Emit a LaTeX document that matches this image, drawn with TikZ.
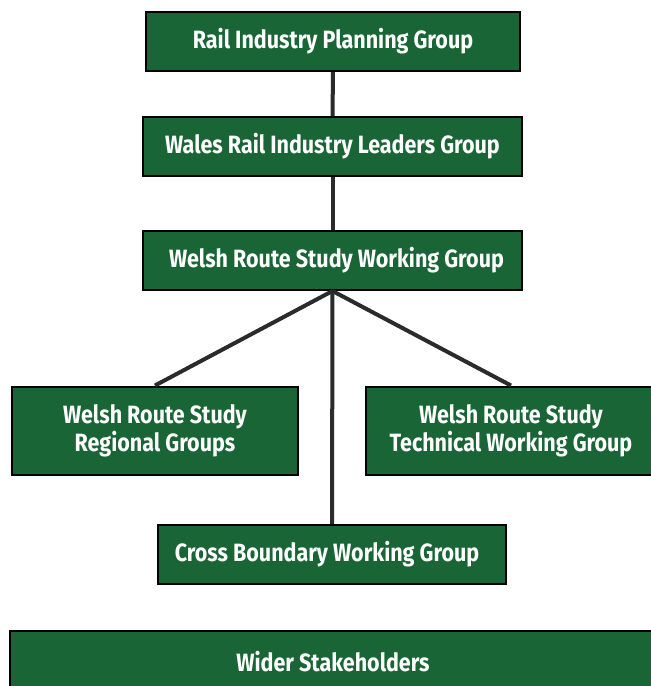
\documentclass[tikz,border=0pt]{standalone}
\usepackage{fontspec}
\setmainfont{Fira Sans}[FakeStretch=0.86]
\definecolor{railgreen}{HTML}{1A6535}
\definecolor{linkgrey}{HTML}{2B2B2B}
\begin{document}
\begin{tikzpicture}[x=1pt,y=-1pt,
	box/.style={draw=black, line width=2pt, fill=railgreen, text=white, align=center,
		font=\fontsize{25}{28}\selectfont\bfseries, inner sep=0pt, minimum height=59pt},
	link/.style={draw=linkgrey, line width=4pt}]
		\useasboundingbox (0,0) rectangle (651,686);
		\clip (0,0) rectangle (651,686);
		\node[box, minimum width=374pt] (P) at (333,41.5) {Rail Industry Planning Group};
		\node[box, minimum width=379pt] (L) at (332.5,146.5) {Wales Rail Industry Leaders Group};
		\node[box, minimum width=379pt] (W) at (332.5,260.5) {\hspace*{8pt}Welsh Route Study Working Group};
		
		\node[box, minimum width=286pt, minimum height=88pt] (R) at (155,430.5) {Welsh Route Study\\Regional Groups};
		\node[box, minimum width=290pt, minimum height=88pt] (T) at (511,430.5) {Welsh Route Study\\Technical Working Group};
		\node[box, minimum width=348pt] (C) at (332,554.5) {Cross Boundary Working Group\hspace*{10pt}};
		\node[box, minimum width=646pt, minimum height=62pt] (S) at (333,662) {Wider Stakeholders};
		
		\draw[link] (P.south) -- (L.north);
		\draw[link] (L.south) -- (W.north);
		\draw[link] (W.south) -- (C.north);
		\draw[link] (W.south) -- (R.north);
		\draw[link] (W.south) -- (T.north);
\end{tikzpicture}
\end{document}
